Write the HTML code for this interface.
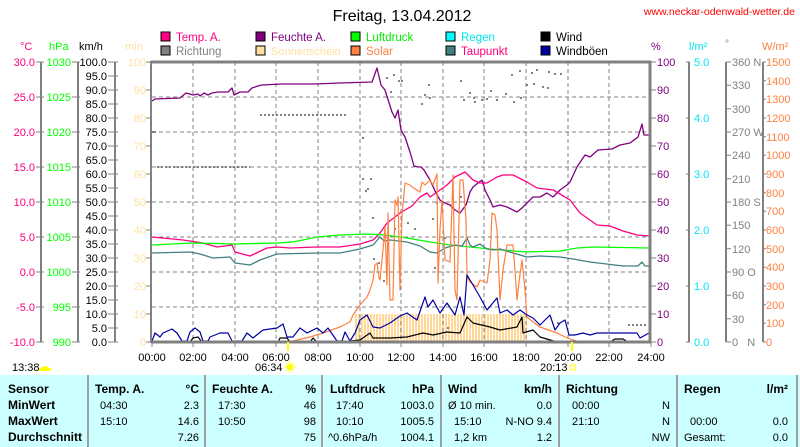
<!DOCTYPE html>
<html><head><meta charset="utf-8"><style>
html,body{margin:0;padding:0;background:#fff;}
body{width:800px;height:447px;overflow:hidden;position:relative;font-family:"Liberation Sans",Arial,sans-serif;}
svg{position:absolute;left:0;top:0;}
text{font-family:"Liberation Sans",Arial,sans-serif;font-size:11px;}
</style></head><body>
<svg width="800" height="447" viewBox="0 0 800 447">
<defs>
<pattern id="sun" width="3" height="10" patternUnits="userSpaceOnUse" x="355"><rect width="2" height="10" fill="#ffd898"/></pattern>
</defs>
<text x="402" y="21" text-anchor="middle" style="font-size:16px">Freitag, 13.04.2012</text>
<text x="795" y="15" text-anchor="end" fill="#ff0000" style="font-size:10.5px">www.neckar-odenwald-wetter.de</text>
<g style="font-size:12px">
<rect x="161" y="32" width="9" height="9" fill="#ff0080" stroke="#000"/><text x="176" y="41" fill="#ff0080" style="font-size:11.5px">Temp. A.</text>
<rect x="256" y="32" width="9" height="9" fill="#800080" stroke="#000"/><text x="271" y="41" fill="#800080" style="font-size:11.5px">Feuchte A.</text>
<rect x="351" y="32" width="9" height="9" fill="#00ff00" stroke="#000"/><text x="366" y="41" fill="#00ee00" style="font-size:11.5px">Luftdruck</text>
<rect x="446" y="32" width="9" height="9" fill="#00ffff" stroke="#000"/><text x="461" y="41" fill="#00e8f0" style="font-size:11.5px">Regen</text>
<rect x="541" y="32" width="9" height="9" fill="#000" stroke="#000"/><text x="556" y="41" fill="#000" style="font-size:11.5px">Wind</text>
<rect x="161" y="46" width="9" height="9" fill="#808080" stroke="#000"/><text x="176" y="55" fill="#808080" style="font-size:11.5px">Richtung</text>
<rect x="256" y="46" width="9" height="9" fill="#ffe0a0" stroke="#000"/><text x="271" y="55" fill="#ffe0a0" style="font-size:11px">Sonnenschein</text>
<rect x="351" y="46" width="9" height="9" fill="#ff8040" stroke="#000"/><text x="366" y="55" fill="#ff8040" style="font-size:11.5px">Solar</text>
<rect x="446" y="46" width="9" height="9" fill="#408080" stroke="#000"/><text x="461" y="55" fill="#ff0080" style="font-size:11.5px">Taupunkt</text>
<rect x="541" y="46" width="9" height="9" fill="#0000a0" stroke="#000"/><text x="556" y="55" fill="#000" style="font-size:11.5px">Windböen</text>
</g>
<text x="20" y="50" fill="#ff0080">°C</text>
<text x="49" y="50" fill="#00ff00">hPa</text>
<text x="79" y="50" fill="#000">km/h</text>
<text x="125" y="50" fill="#ffe0a0">min</text>
<text x="651" y="50" fill="#800080">%</text>
<text x="689" y="50" fill="#00e8f0">l/m²</text>
<text x="725" y="47" fill="#808080" style="font-size:10px">°</text>
<text x="762" y="50" fill="#ff8040">W/m²</text>

<g stroke="#808080" stroke-width="2" fill="none">
<line x1="41" y1="62" x2="41" y2="342"/>
<line x1="78" y1="62" x2="78" y2="342"/>
<line x1="115" y1="62" x2="115" y2="342"/>
<line x1="689" y1="62" x2="689" y2="342"/>
<line x1="726" y1="62" x2="726" y2="342"/>
<line x1="763" y1="62" x2="763" y2="342"/>
</g>
<g stroke="#808080" stroke-width="1">
<path d="M36 62h8M36 97h8M36 132h8M36 167h8M36 202h8M36 237h8M36 272h8M36 307h8M36 342h8"/>
<path d="M72 62h8M72 97h8M72 132h8M72 167h8M72 202h8M72 237h8M72 272h8M72 307h8M72 342h8"/>
<path d="M108 62h10M108 76h10M108 90h10M108 104h10M108 118h10M108 132h10M108 146h10M108 160h10M108 174h10M108 188h10M108 202h10M108 216h10M108 230h10M108 244h10M108 258h10M108 272h10M108 286h10M108 300h10M108 314h10M108 328h10M108 342h10"/>
<path d="M146 62h5M146 90h5M146 118h5M146 146h5M146 174h5M146 202h5M146 230h5M146 258h5M146 286h5M146 314h5M146 342h5"/>
<path d="M651 62h5M651 90h5M651 118h5M651 146h5M651 174h5M651 202h5M651 230h5M651 258h5M651 286h5M651 314h5M651 342h5"/>
<path d="M686 62h4M686 118h4M686 174h4M686 230h4M686 286h4M686 342h4"/>
<path d="M726 62h5M726 85.3h5M726 108.7h5M726 132h5M726 155.3h5M726 178.7h5M726 202h5M726 225.3h5M726 248.7h5M726 272h5M726 295.3h5M726 318.7h5M726 342h5"/>
<path d="M763 62h3M763 80.7h3M763 99.3h3M763 118h3M763 136.7h3M763 155.3h3M763 174h3M763 192.7h3M763 211.3h3M763 230h3M763 248.7h3M763 267.3h3M763 286h3M763 304.7h3M763 323.3h3M763 342h3"/>
</g>
<g fill="#ff0080" text-anchor="end">
<text x="35" y="66">30.0</text><text x="35" y="101">25.0</text><text x="35" y="136">20.0</text><text x="35" y="171">15.0</text><text x="35" y="206">10.0</text><text x="35" y="241">5.0</text><text x="35" y="276">0.0</text><text x="35" y="311">-5.0</text><text x="35" y="346">-10.0</text>
</g>
<g fill="#00ff00" text-anchor="end">
<text x="71" y="66">1030</text><text x="71" y="101">1025</text><text x="71" y="136">1020</text><text x="71" y="171">1015</text><text x="71" y="206">1010</text><text x="71" y="241">1005</text><text x="71" y="276">1000</text><text x="71" y="311">995</text><text x="71" y="346">990</text>
</g>
<g fill="#000" text-anchor="end">
<text x="107" y="66">100.0</text><text x="107" y="80">95.0</text><text x="107" y="94">90.0</text><text x="107" y="108">85.0</text><text x="107" y="122">80.0</text><text x="107" y="136">75.0</text><text x="107" y="150">70.0</text><text x="107" y="164">65.0</text><text x="107" y="178">60.0</text><text x="107" y="192">55.0</text><text x="107" y="206">50.0</text><text x="107" y="220">45.0</text><text x="107" y="234">40.0</text><text x="107" y="248">35.0</text><text x="107" y="262">30.0</text><text x="107" y="276">25.0</text><text x="107" y="290">20.0</text><text x="107" y="304">15.0</text><text x="107" y="318">10.0</text><text x="107" y="332">5.0</text><text x="107" y="346">0.0</text>
</g>
<g fill="#ffe0a0" text-anchor="end">
<text x="146" y="66">100</text><text x="146" y="94">90</text><text x="146" y="122">80</text><text x="146" y="150">70</text><text x="146" y="178">60</text><text x="146" y="206">50</text><text x="146" y="234">40</text><text x="146" y="262">30</text><text x="146" y="290">20</text><text x="146" y="318">10</text><text x="146" y="346">0</text>
</g>
<g fill="#800080">
<text x="657" y="66">100</text><text x="657" y="94">90</text><text x="657" y="122">80</text><text x="657" y="150">70</text><text x="657" y="178">60</text><text x="657" y="206">50</text><text x="657" y="234">40</text><text x="657" y="262">30</text><text x="657" y="290">20</text><text x="657" y="318">10</text><text x="657" y="346">0</text>
</g>
<g fill="#00e8f0">
<text x="694" y="66">5.0</text><text x="694" y="122">4.0</text><text x="694" y="178">3.0</text><text x="694" y="234">2.0</text><text x="694" y="290">1.0</text><text x="694" y="346">0.0</text>
</g>
<g fill="#808080">
<text x="732" y="66">360 N</text><text x="732" y="89">330</text><text x="732" y="113">300</text><text x="732" y="136">270 W</text><text x="732" y="159">240</text><text x="732" y="183">210</text><text x="732" y="206">180 S</text><text x="732" y="229">150</text><text x="732" y="253">120</text><text x="732" y="276">90 O</text><text x="732" y="299">60</text><text x="732" y="323">30</text><text x="732" y="346">0&#160;&#160;&#160;N</text>
</g>
<g fill="#ff8040">
<text x="766" y="66">1500</text><text x="766" y="85">1400</text><text x="766" y="103">1300</text><text x="766" y="122">1200</text><text x="766" y="141">1100</text><text x="766" y="159">1000</text><text x="766" y="178">900</text><text x="766" y="197">800</text><text x="766" y="215">700</text><text x="766" y="234">600</text><text x="766" y="253">500</text><text x="766" y="271">400</text><text x="766" y="290">300</text><text x="766" y="309">200</text><text x="766" y="327">100</text><text x="766" y="346">0</text>
</g>

<rect x="355" y="314" width="172" height="28" fill="url(#sun)"/>

<g stroke="#808080" stroke-width="1" stroke-dasharray="4,3">
<path d="M193 62V342M235 62V342M276 62V342M318 62V342M360 62V342M401 62V342M443 62V342M484 62V342M526 62V342M568 62V342M609 62V342"/>
<path d="M152 97H650M152 132H650M152 167H650M152 202H650M152 237H650M152 272H650M152 307H650"/>
</g>

<g stroke="#808080" stroke-width="2" fill="none">
<path d="M260 115H346" stroke-dasharray="2,2"/>
<path d="M157 167H250" stroke-dasharray="2,2"/>
<path d="M152 132h4" />
<path d="M628 325H646" stroke-dasharray="2,2"/>
</g>
<g fill="#808080">
<rect x="386" y="77" width="2" height="2"/><rect x="393" y="74" width="2" height="2"/><rect x="398" y="80" width="2" height="2"/><rect x="401" y="80" width="2" height="2"/><rect x="390" y="91" width="2" height="2"/><rect x="428" y="84" width="2" height="2"/><rect x="424" y="94" width="2" height="2"/><rect x="421" y="103" width="2" height="2"/><rect x="429" y="97" width="2" height="2"/><rect x="460" y="80" width="2" height="2"/><rect x="469" y="92" width="2" height="2"/><rect x="463" y="99" width="2" height="2"/><rect x="473" y="97" width="2" height="2"/><rect x="474" y="101" width="2" height="2"/><rect x="481" y="99" width="2" height="2"/><rect x="486" y="98" width="2" height="2"/><rect x="490" y="90" width="2" height="2"/><rect x="496" y="99" width="2" height="2"/><rect x="505" y="93" width="2" height="2"/><rect x="511" y="74" width="2" height="2"/><rect x="519" y="70" width="2" height="2"/><rect x="513" y="101" width="2" height="2"/><rect x="520" y="97" width="2" height="2"/><rect x="526" y="84" width="2" height="2"/><rect x="531" y="72" width="2" height="2"/><rect x="536" y="69" width="2" height="2"/><rect x="533" y="83" width="2" height="2"/><rect x="542" y="86" width="2" height="2"/><rect x="548" y="71" width="2" height="2"/><rect x="554" y="73" width="2" height="2"/><rect x="560" y="73" width="2" height="2"/><rect x="547" y="87" width="2" height="2"/><rect x="362" y="137" width="2" height="2"/><rect x="367" y="188" width="2" height="2"/><rect x="362" y="178" width="2" height="2"/><rect x="370" y="178" width="2" height="2"/><rect x="365" y="190" width="2" height="2"/><rect x="372" y="217" width="2" height="2"/><rect x="394" y="228" width="2" height="2"/><rect x="432" y="218" width="2" height="2"/><rect x="436" y="202" width="2" height="2"/><rect x="373" y="258" width="2" height="2"/><rect x="378" y="262" width="2" height="2"/><rect x="383" y="280" width="2" height="2"/><rect x="407" y="222" width="2" height="2"/><rect x="414" y="228" width="2" height="2"/><rect x="434" y="267" width="2" height="2"/><rect x="444" y="237" width="2" height="2"/><rect x="460" y="196" width="2" height="2"/><rect x="447" y="327" width="2" height="2"/><rect x="557" y="322" width="2" height="2"/><rect x="567" y="322" width="2" height="2"/></g>

<g fill="none" stroke-width="1.3" stroke-linejoin="round">
<polyline stroke="#800080" points="152,101 155,99 180,98 186,93 193,95 198,94 200,96 204,93 208,95 212,93 218,92 228,92 232,88 234,95 240,92 248,92 252,88 258,86 262,85 282,84 315,84 340,83 372,82 377,68 381,85 385,90 392,112 395,118 398,110 401,130 405,137 410,152 414,166 418,167 421,167 424,170 430,180 436,193 440,200 445,203 450,205 455,210 460,213 466,205 470,192 473,187 478,183 482,180 485,190 490,200 493,207 500,205 507,207 513,210 517,212 522,208 527,203 533,197 540,197 547,193 553,197 560,190 567,185 570,182 577,167 585,155 590,157 598,150 612,149 620,145 630,143 638,137 642,124 644,135 649,135"/>
<polyline stroke="#ff0080" points="152,237 183,240 203,243 217,247 232,245 235,252 250,256 267,248 277,247 290,248 317,247 340,247 360,244 373,240 380,233 387,223 395,217 400,213 405,210 412,206 420,197 427,193 430,197 440,190 447,185 455,177 465,172 473,180 480,183 487,183 497,177 503,175 513,175 527,182 537,188 553,190 560,194 570,200 580,213 597,225 610,226 623,231 637,235 649,236"/>
<polyline stroke="#00ff00" points="152,245 193,243 237,244 277,243 293,242 317,237 340,235 367,234 385,235 407,238 430,242 450,245 490,249 527,252 560,251 577,248 593,247 649,248"/>
<polyline stroke="#408080" points="152,253 190,252 200,254 213,258 230,257 235,263 250,265 260,260 277,254 317,253 340,253 360,249 373,245 380,237 384,241 390,240 407,242 420,246 430,252 437,253 445,248 455,245 462,246 467,238 470,245 473,247 480,244 487,249 493,250 500,249 513,253 527,257 540,256 560,257 573,259 590,262 623,266 638,266 642,262 645,266 649,266"/>
<polyline stroke="#ff8040" stroke-width="1.2" points="288,342 293,341 310,337 323,333 340,327 350,322 353,315 360,305 367,297 370,290 373,280 375,265 377,263 379,278 380,280 383,250 385,227 387,285 388,213 390,300 393,300 395,200 397,205 398,197 400,290 402,215 405,183 410,185 412,187 420,192 422,182 425,185 430,180 433,185 437,174 438,283 440,230 442,200 445,260 450,262 453,175 455,290 457,300 460,180 463,180 466,220 467,277 470,282 477,287 480,280 487,283 490,260 492,213 495,215 497,230 500,300 503,270 507,245 513,245 515,270 517,300 519,282 522,260 525,290 527,317 533,322 540,327 557,333 565,337 573,340 580,342"/>
<polyline stroke="#0000a0" stroke-width="1.2" points="152,341 155,333 160,337 163,333 172,329 177,333 182,341 187,341 190,332 195,328 200,332 203,341 208,341 210,337 220,333 228,333 232,341 242,341 247,333 253,338 263,330 277,328 283,324 287,337 293,337 300,328 307,333 317,328 323,333 328,328 337,341 342,341 345,332 350,341 355,333 360,320 367,315 373,327 380,328 390,323 400,316 407,313 417,320 425,297 428,307 433,300 440,313 447,303 455,315 460,297 464,315 467,275 473,285 480,297 487,310 497,298 500,313 507,310 513,315 520,310 527,315 533,318 540,325 550,315 555,330 560,323 565,320 569,335 575,335 583,333 590,335 597,333 637,333 640,338 649,333"/>
<polyline stroke="#000" stroke-width="1.2" points="152,342 190,342 193,338 198,337 202,342 278,342 280,338 287,338 290,342 310,342 313,338 317,342 340,342 350,341 360,340 370,333 373,338 390,338 407,337 423,333 433,335 447,332 460,333 467,317 473,323 490,327 500,330 517,327 522,317 523,333 533,330 540,337 557,342 610,342 615,339 623,339 628,342 649,342"/>
</g>

<g stroke="#808080" fill="none">
<line x1="151" y1="62" x2="651" y2="62" stroke-width="3"/>
<line x1="151" y1="61" x2="151" y2="343" stroke-width="2"/>
<line x1="650" y1="61" x2="650" y2="343" stroke-width="3"/>
<line x1="151" y1="342" x2="651" y2="342" stroke-width="3"/>
<path d="M152 342v5M193 342v5M235 342v5M276 342v5M318 342v5M360 342v5M401 342v5M443 342v5M484 342v5M526 342v5M568 342v5M609 342v5M651 342v5" stroke-width="1"/>
</g>
<g fill="#000" text-anchor="middle">
<text x="152" y="361">00:00</text><text x="193" y="361">02:00</text><text x="235" y="361">04:00</text><text x="276" y="361">06:00</text><text x="318" y="361">08:00</text><text x="360" y="361">10:00</text><text x="401" y="361">12:00</text><text x="443" y="361">14:00</text><text x="484" y="361">16:00</text><text x="526" y="361">18:00</text><text x="568" y="361">20:00</text><text x="609" y="361">22:00</text><text x="651" y="361">24:00</text>
</g>
<rect x="287" y="342" width="2" height="9" fill="#ffff00"/>
<rect x="571" y="342" width="2" height="9" fill="#ffff00"/>
<text x="12" y="371">13:38</text>
<path d="M40 371 a5 5 0 0 1 10 0 z" fill="#ffff00"/><rect x="39" y="368" width="12" height="3" fill="#ffff00"/>
<text x="255" y="371">06:34</text>
<circle cx="290" cy="367" r="3.5" fill="#ffff00"/>
<g stroke="#ffff00" stroke-width="1"><path d="M290 361v2M290 371v2M284 367h2M294 367h2M286 363l1 1M293 370l1 1M286 371l1 -1M293 364l1 -1"/></g>
<text x="540" y="371">20:13</text>
<rect x="570" y="365" width="5" height="5" fill="none" stroke="#ffff00"/>

<rect x="0" y="375" width="800" height="72" fill="#ccffff"/>
<g stroke="#a0a0a0" stroke-width="2">
<line x1="88" y1="375" x2="88" y2="447"/><line x1="205" y1="375" x2="205" y2="447"/><line x1="322" y1="375" x2="322" y2="447"/><line x1="441" y1="375" x2="441" y2="447"/><line x1="559" y1="375" x2="559" y2="447"/><line x1="677" y1="375" x2="677" y2="447"/><line x1="797" y1="375" x2="797" y2="447"/>
</g>
<g style="font-weight:bold" fill="#000">
<text x="8" y="393" style="font-size:12px">Sensor</text><text x="8" y="409" style="font-size:12px">MinWert</text><text x="8" y="425" style="font-size:12px">MaxWert</text><text x="8" y="441" style="font-size:12px">Durchschnitt</text>
<text x="95" y="393" style="font-size:12px">Temp. A.</text><text x="199" y="393" text-anchor="end" style="font-size:12px">°C</text>
<text x="212" y="393" style="font-size:12px">Feuchte A.</text><text x="316" y="393" text-anchor="end" style="font-size:12px">%</text>
<text x="330" y="393" style="font-size:12px">Luftdruck</text><text x="434" y="393" text-anchor="end" style="font-size:12px">hPa</text>
<text x="448" y="393" style="font-size:12px">Wind</text><text x="552" y="393" text-anchor="end" style="font-size:12px">km/h</text>
<text x="566" y="393" style="font-size:12px">Richtung</text>
<text x="684" y="393" style="font-size:12px">Regen</text><text x="788" y="393" text-anchor="end" style="font-size:12px">l/m²</text>
</g>
<g fill="#000" style="font-size:12px">
<text x="100" y="409">04:30</text><text x="199" y="409" text-anchor="end">2.3</text>
<text x="100" y="425">15:10</text><text x="199" y="425" text-anchor="end">14.6</text>
<text x="199" y="441" text-anchor="end">7.26</text>
<text x="218" y="409">17:30</text><text x="316" y="409" text-anchor="end">46</text>
<text x="218" y="425">10:50</text><text x="316" y="425" text-anchor="end">98</text>
<text x="316" y="441" text-anchor="end">75</text>
<text x="336" y="409">17:40</text><text x="434" y="409" text-anchor="end">1003.0</text>
<text x="336" y="425">10:10</text><text x="434" y="425" text-anchor="end">1005.5</text>
<text x="328" y="441">^0.6hPa/h</text><text x="434" y="441" text-anchor="end">1004.1</text>
<text x="448" y="409">Ø 10 min.</text><text x="552" y="409" text-anchor="end">0.0</text>
<text x="454" y="425">15:10</text><text x="552" y="425" text-anchor="end">N-NO 9.4</text>
<text x="454" y="441">1,2 km</text><text x="552" y="441" text-anchor="end">1.2</text>
<text x="572" y="409">00:00</text><text x="670" y="409" text-anchor="end">N</text>
<text x="572" y="425">21:10</text><text x="670" y="425" text-anchor="end">N</text>
<text x="670" y="441" text-anchor="end">NW</text>
<text x="690" y="425">00:00</text><text x="788" y="425" text-anchor="end">0.0</text>
<text x="684" y="441">Gesamt:</text><text x="788" y="441" text-anchor="end">0.0</text>
</g>
</svg>
</body></html>
